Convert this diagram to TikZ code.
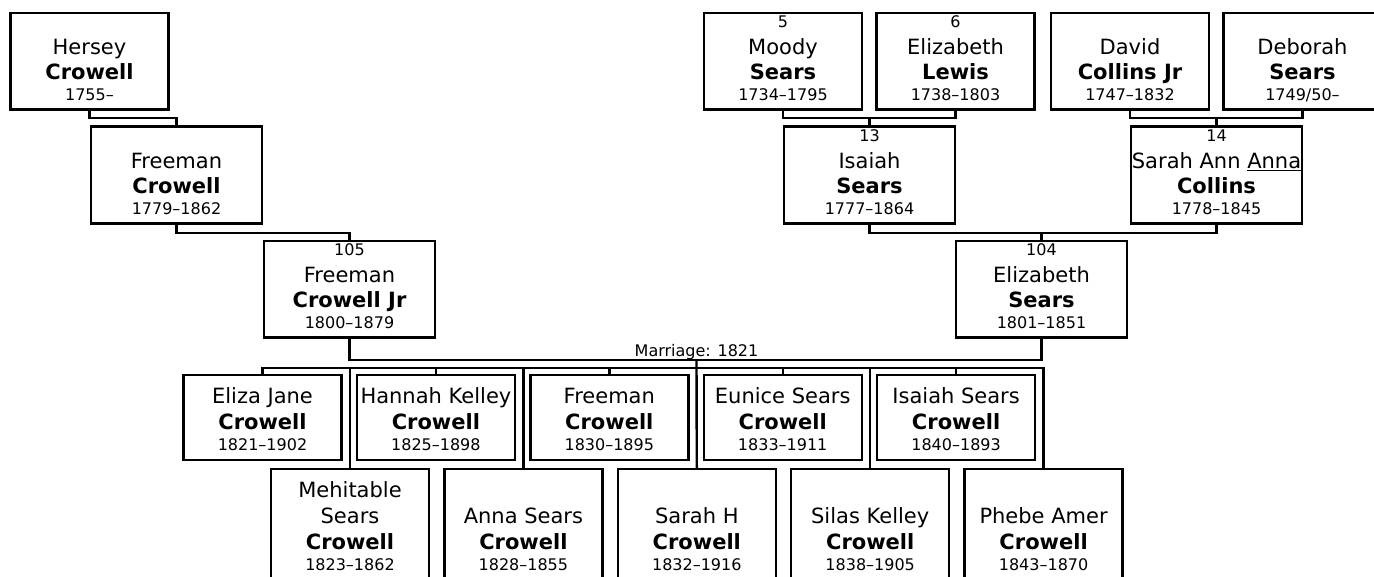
\documentclass[tikz,border=0pt]{standalone}
\usepackage{fontspec}
\setmainfont{DejaVu Sans}
\newcommand{\datefont}{\fontsize{16}{18}\selectfont}
% ancestor box text: number, first names, surname, dates
\newcommand{\anc}[4]{\rule{0pt}{13pt}{\datefont #1}\\[2pt]#2\\\textbf{#3}\\[-4pt]{\datefont #4\rule[-7pt]{0pt}{7pt}}}
% child box texts
\newcommand{\kidtwo}[3]{\rule{0pt}{21.5pt}#1\\\textbf{#2}\\[-5pt]{\datefont #3\rule[-2pt]{0pt}{2pt}}}
\newcommand{\kidthree}[4]{\rule{0pt}{18pt}#1\\#2\\\textbf{#3}\\[-5pt]{\datefont #4\rule[-18pt]{0pt}{18pt}}}

\begin{document}
\begin{tikzpicture}[x=1pt, y=-1pt, line width=2.4pt,
  ancbox/.style={draw, inner sep=0pt, align=center, minimum width=158pt, minimum height=96.7pt,
    font=\fontsize{21}{25}\selectfont},
  ancwide/.style={ancbox, minimum width=170.7pt},
  kidbox/.style={draw, inner sep=0pt, align=center, minimum width=158pt, font=\fontsize{21}{26}\selectfont},
  kidtop/.style={kidbox, minimum height=84.7pt},
  kidlow/.style={kidbox, minimum height=128.7pt}]
\useasboundingbox (0,0) rectangle (1374,576);
\clip (0,0) rectangle (1374,576);

% great-grandparents
\node[ancbox] (hersey) at (89.5,61.3) {\anc{}{Hersey}{Crowell}{1755--}};
\node[ancbox] (moody) at (783,61.3) {\anc{5}{Moody}{Sears}{1734--1795}};
\node[ancbox] (elewis) at (955.5,61.3) {\anc{6}{Elizabeth}{Lewis}{1738--1803}};
\node[ancbox] (david) at (1130,61.3) {\anc{}{David}{Collins Jr}{1747--1832}};
\node[ancbox] (deborah) at (1302.5,61.3) {\anc{}{Deborah}{Sears}{1749/50--}};

% grandparents
\node[ancwide] (freeman) at (176.5,175) {\anc{}{Freeman}{Crowell}{1779--1862}};
\node[ancwide] (isaiah) at (869.5,175) {\anc{13}{Isaiah}{Sears}{1777--1864}};
\node[ancwide] (sarah) at (1216.5,175) {\anc{14}{\makebox[165pt]{Sarah Ann \underline{Anna}}}{Collins}{1778--1845}};

% parents
\node[ancwide] (freemanjr) at (349.5,289.2) {\anc{105}{Freeman}{Crowell Jr}{1800--1879}};
\node[ancwide] (esears) at (1041.5,289.2) {\anc{104}{Elizabeth}{Sears}{1801--1851}};

\draw (hersey.south) -- ++(0,7) -| (freeman.north);
\draw (moody.south) -- ++(0,7) coordinate (sbar) -| (elewis.south);
\draw (isaiah.north) -- (isaiah.north |- sbar);
\draw (david.south) -- ++(0,7) coordinate (cbar) -| (deborah.south);
\draw (sarah.north) -- (sarah.north |- cbar);
\draw (freeman.south) -- ++(0,8.5) -| (freemanjr.north);
\draw (isaiah.south) -- ++(0,8.5) coordinate (pbar) -| (sarah.south);
\draw (esears.north) -- (esears.north |- pbar);

% marriage
\coordinate (mline) at (696.5,360);
\coordinate (sib) at (696.5,368);
\draw (freemanjr.south) |- (mline) -| (esears.south);
\node[anchor=base, font=\datefont, inner sep=0pt] (mlabel) at (696.5,356) {Marriage: 1821};

% children
\foreach \nm/\x/\first/\dates in {eliza/262.5/Eliza Jane/1821--1902, hannah/435.9/Hannah Kelley/1825--1898,
    freemanc/609.3/Freeman/1830--1895, eunice/782.7/Eunice Sears/1833--1911, isaiahc/956.1/Isaiah Sears/1840--1893}
  \node[kidtop] (\nm) at (\x,417.5) {\kidtwo{\first}{Crowell}{\dates}};
\foreach \nm/\x/\one/\two/\dates in {mehitable/350/Mehitable/Sears/1823--1862, anna/523.4//Anna Sears/1828--1855,
    sarahh/696.8//Sarah H/1832--1916, silas/870.2//Silas Kelley/1838--1905, phebe/1043.6//Phebe Amer/1843--1870}
  \node[kidlow] (\nm) at (\x,533.5) {\kidthree{\one}{\two}{Crowell}{\dates}};

\draw (mline) -- (sarahh.north);
\draw (eliza.north) -- (eliza.north |- sib) -- (phebe.north |- sib) -- (phebe.north);
\foreach \nm in {hannah, freemanc, eunice, isaiahc, mehitable, anna, silas}
  \draw (\nm.north) -- (\nm.north |- sib);
\end{tikzpicture}
\end{document}
